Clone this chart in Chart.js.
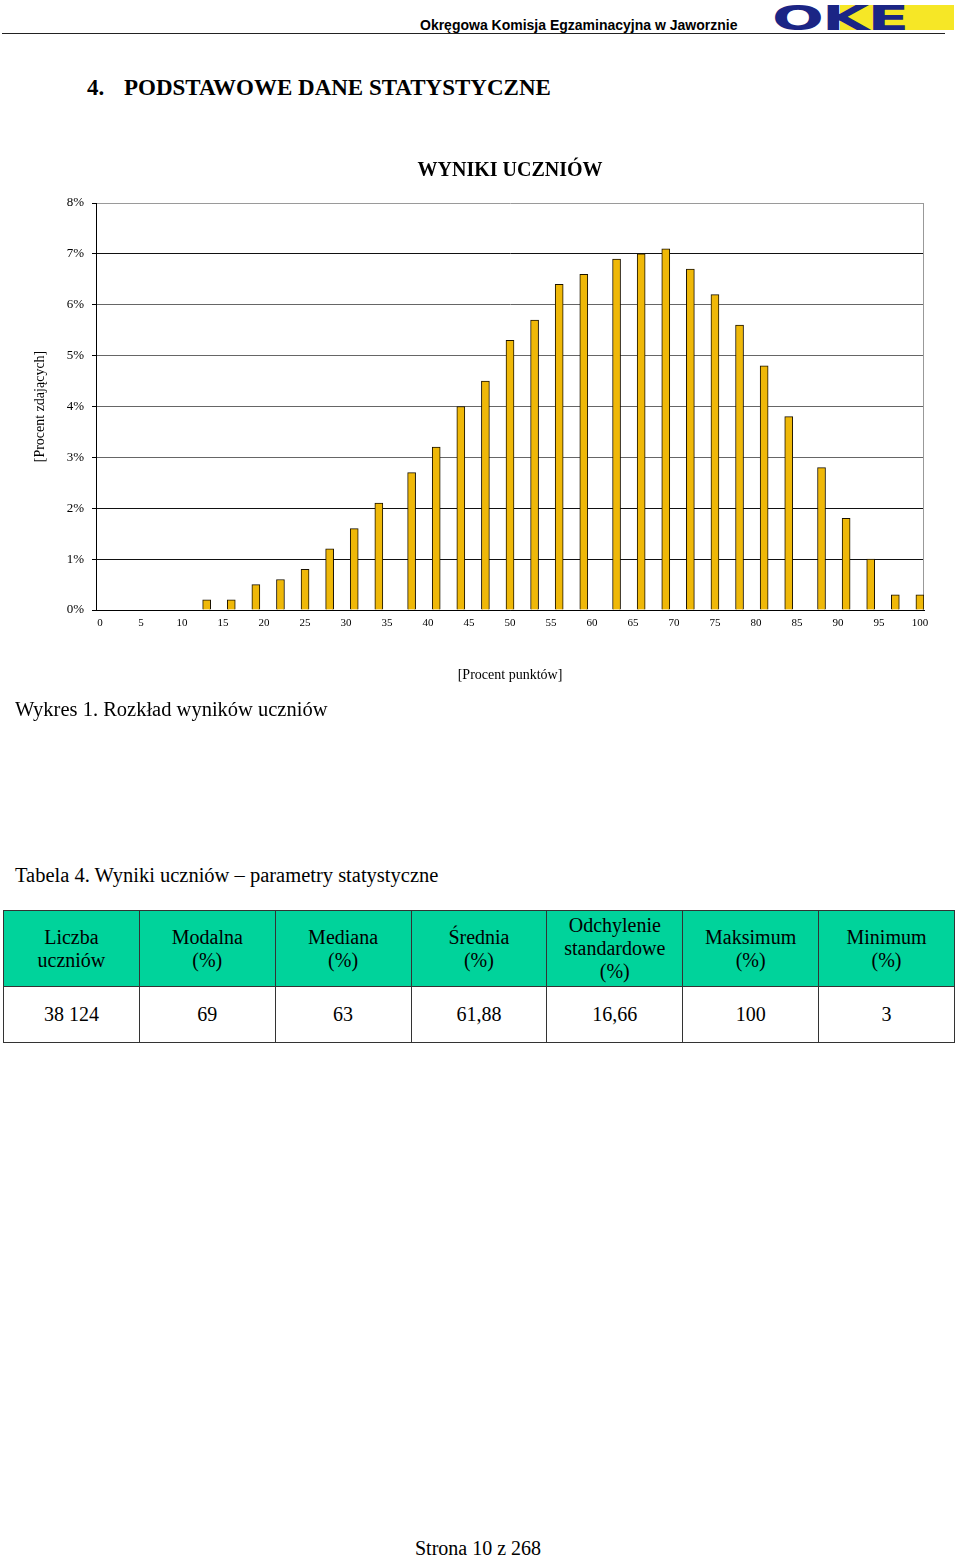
<!DOCTYPE html>
<html lang="pl">
<head>
<meta charset="utf-8">
<title>Wyniki uczniów</title>
<script src="https://cdn.jsdelivr.net/npm/chart.js@4/dist/chart.umd.min.js"></script>
<style>
  html, body { margin: 0; padding: 0; background: #fff; }
  body { width: 960px; height: 1557px; position: relative; overflow: hidden; font-family: "Liberation Serif", "Times New Roman", serif; color: #000; }
  .abs { position: absolute; white-space: nowrap; }
  #hdr { left: 420px; top: 17px; font: bold 14px "Liberation Sans", Arial, sans-serif; line-height: 16px; }
  #hdrLine { left: 2px; top: 33px; width: 943px; height: 1px; background: #222; }
  #logoBox { left: 840px; top: 5px; width: 114px; height: 25px; background: #f6e726; }
  #logoTxt { left: 772px; top: 2px; font: bold 33px "DejaVu Sans", sans-serif; line-height: 34px; color: #1b2585; transform: scaleX(1.85); transform-origin: left top; letter-spacing: -1px; }
  .h1 { top: 75px; font-weight: bold; font-size: 23px; line-height: 26px; }
  #chartBox { left: 0; top: 150px; width: 960px; height: 550px; }
  .cap { left: 15px; font-size: 20.5px; line-height: 24px; }
  table { position: absolute; left: 3px; top: 910px; width: 952px; border-collapse: collapse; table-layout: fixed; font-size: 20px; }
  td { border: 1.5px solid #333; text-align: center; vertical-align: middle; padding: 0; }
  tr.head td { background: #00d39b; height: 75px; line-height: 23px; }
  tr.vals td { height: 55px; }
  #foot { left: 0; width: 956px; top: 1536px; text-align: center; font-size: 20px; line-height: 24px; }
</style>
</head>
<body>
<div class="abs" id="hdr">Okręgowa Komisja Egzaminacyjna w Jaworznie</div>
<div class="abs" id="hdrLine"></div>
<div class="abs" id="logoBox"></div>
<div class="abs" id="logoTxt">OKE</div>

<div class="abs h1" style="left:87px">4.</div>
<div class="abs h1" style="left:124px">PODSTAWOWE DANE STATYSTYCZNE</div>

<div class="abs" id="chartBox"><canvas id="myChart" width="960" height="550"></canvas></div>

<div class="abs cap" style="top:697px">Wykres 1. Rozkład wyników uczniów</div>
<div class="abs cap" style="top:863px">Tabela 4. Wyniki uczniów – parametry statystyczne</div>

<table>
  <tr class="head" id="headRow"></tr>
  <tr class="vals" id="valRow"></tr>
</table>

<div class="abs" id="foot">Strona 10 z 268</div>

<script>
// score (percent of points) for each bar and share of students who got it
const scores = [13, 16, 19, 22, 25, 28, 31, 34, 38, 41, 44, 47, 50, 53, 56, 59, 63, 66, 69, 72, 75, 78, 81, 84, 88, 91, 94, 97, 100];
const percentStudents = [0.2, 0.2, 0.5, 0.6, 0.8, 1.2, 1.6, 2.1, 2.7, 3.2, 4.0, 4.5, 5.3, 5.7, 6.4, 6.6, 6.9, 7.0, 7.1, 6.7, 6.2, 5.6, 4.8, 3.8, 2.8, 1.8, 1.0, 0.3, 0.3];

// x axis categories 0..100, only every 5th one is labelled
const scoreCategories = [];
for (let i = 0; i <= 100; i++) scoreCategories.push(String(i));

// table with the statistics
const statNames = ['Liczba<br>uczniów', 'Modalna<br>(%)', 'Mediana<br>(%)', 'Średnia<br>(%)', 'Odchylenie<br>standardowe<br>(%)', 'Maksimum<br>(%)', 'Minimum<br>(%)'];
const statValues = ['38 124', '69', '63', '61,88', '16,66', '100', '3'];

document.getElementById('headRow').innerHTML = statNames.map(s => '<td>' + s + '</td>').join('');
document.getElementById('valRow').innerHTML = statValues.map(s => '<td>' + s + '</td>').join('');

const serif = '"Liberation Serif", "Times New Roman", serif';
Chart.defaults.color = '#000';
Chart.defaults.font.family = serif;

// thin grey line on the right edge of the plot area
const plotFrame = {
  id: 'plotFrame',
  beforeDatasetsDraw(chart) {
    const a = chart.chartArea, c = chart.ctx;
    c.save();
    c.strokeStyle = '#999';
    c.lineWidth = 1;
    c.beginPath();
    c.moveTo(a.right - 0.5, a.top);
    c.lineTo(a.right - 0.5, a.bottom);
    c.stroke();
    c.restore();
  }
};

var ctx = document.getElementById('myChart').getContext('2d');
var chart = new Chart(ctx, {
  type: 'bar',
  data: {
    labels: scoreCategories,
    datasets: [{
      label: 'Procent zdających',
      data: scores.map((s, i) => ({x: String(s), y: percentStudents[i]})),
      backgroundColor: '#efb808',
      borderColor: '#1a1200',
      borderWidth: 1,
      barThickness: 8
    }]
  },
  plugins: [plotFrame],
  options: {
    responsive: false,
    animation: false,
    layout: { padding: { left: 0, right: 36, top: 0, bottom: 0 } },
    plugins: {
      legend: { display: false },
      tooltip: { enabled: false },
      title: {
        display: true,
        text: 'WYNIKI UCZNIÓW',
        fullSize: false,
        font: { family: serif, size: 20, weight: 'bold', lineHeight: 1.2 },
        padding: { top: 9, bottom: 20 }
      }
    },
    scales: {
      x: {
        offset: true,
        grid: { display: false, drawTicks: false },
        border: { color: '#000', width: 1 },
        ticks: {
          autoSkip: false,
          maxRotation: 0,
          padding: 7,
          font: { size: 11 },
          callback: function (val, idx) { return idx % 5 === 0 ? this.getLabelForValue(val) : ''; }
        },
        title: {
          display: true,
          text: '[Procent punktów]',
          font: { size: 14 },
          padding: { top: 0, bottom: 16 }
        },
        afterFit: s => { s.height = 90; }
      },
      y: {
        min: 0,
        max: 8,
        grid: {
          color: c => c.tick.value === 8 ? '#9a9a9a' : ([3, 4, 5, 6].includes(c.tick.value) ? '#666' : '#111'),
          tickLength: 4,
          tickColor: '#000'
        },
        border: { color: '#000', width: 1 },
        ticks: {
          stepSize: 1,
          padding: 8,
          font: { size: 13 },
          callback: v => v + '%'
        },
        title: {
          display: true,
          text: '[Procent zdających]',
          font: { size: 14 },
          padding: { top: 32, bottom: 0 }
        },
        afterFit: s => { s.width = 96; }
      }
    }
  }
});
</script>
</body>
</html>
